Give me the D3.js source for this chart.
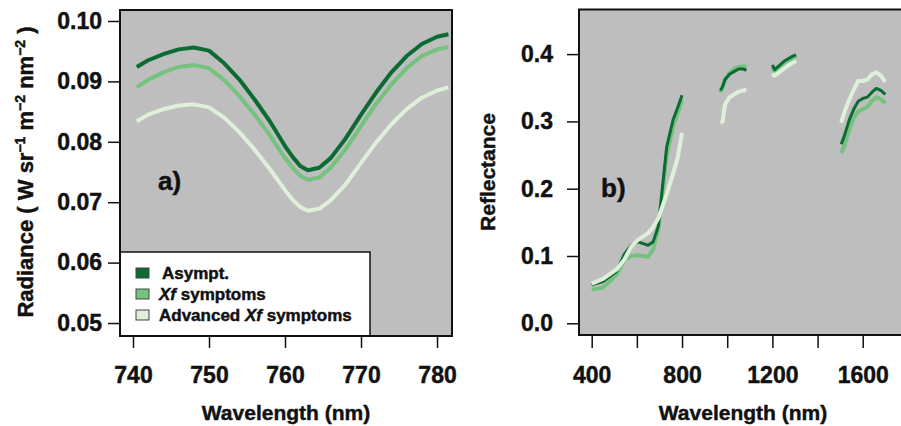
<!DOCTYPE html>
<html>
<head>
<meta charset="utf-8">
<script src="https://cdn.jsdelivr.net/npm/d3@7"></script>
<style>
  body { margin: 0; background: #fff; }
  text { font-family: "Liberation Sans", Arial, sans-serif; font-weight: bold; fill: #111; stroke: #111; stroke-width: 0.45px; }
</style>
</head>
<body>
<svg width="901" height="426"></svg>
<script>
// panel a) radiance around the O2-A band
const wlA = [740.5, 742, 744, 746, 748, 750, 752, 754, 756, 758, 760, 761, 762, 763, 764.5, 766, 768, 770, 772, 774, 776, 778, 780, 781.5];
const asymptA = [0.0924, 0.0935, 0.0945, 0.0953, 0.0956, 0.0951, 0.0930, 0.0903, 0.0870, 0.0834, 0.0793, 0.0775, 0.0760, 0.0753, 0.0757, 0.0773, 0.0806, 0.0845, 0.0882, 0.0915, 0.0942, 0.0962, 0.0974, 0.0978];
const xfA = [0.0890, 0.0903, 0.0915, 0.0924, 0.0927, 0.0922, 0.0902, 0.0876, 0.0845, 0.0811, 0.0773, 0.0757, 0.0744, 0.0737, 0.0741, 0.0757, 0.0788, 0.0826, 0.0863, 0.0895, 0.0922, 0.0942, 0.0953, 0.0957];
const advA = [0.0834, 0.0845, 0.0854, 0.0860, 0.0862, 0.0857, 0.0840, 0.0816, 0.0787, 0.0755, 0.0720, 0.0704, 0.0692, 0.0686, 0.0689, 0.0703, 0.0730, 0.0765, 0.0799, 0.0829, 0.0854, 0.0873, 0.0885, 0.0890];

// panel b) reflectance, null = water absorption gap
const wlB = [400, 450, 510, 545, 575, 605, 650, 672, 695, 732, 760, 780, 800, null,
             970, 980, 990, 1010, 1030, 1050, 1070, 1085, null,
             1200, 1210, 1230, 1250, 1270, 1290, 1305, null,
             1505, 1520, 1540, 1560, 1580, 1600, 1620, 1640, 1660, 1680, 1700];
const asymptB = [0.057, 0.062, 0.077, 0.103, 0.116, 0.121, 0.116, 0.121, 0.144, 0.262, 0.302, 0.320, 0.339, null,
                 0.346, 0.352, 0.362, 0.370, 0.374, 0.378, 0.378, 0.376, null,
                 0.384, 0.377, 0.383, 0.389, 0.393, 0.397, 0.399, null,
                 0.266, 0.280, 0.302, 0.318, 0.330, 0.334, 0.336, 0.343, 0.349, 0.346, 0.340];
const xfB = [0.050, 0.053, 0.072, 0.094, 0.100, 0.101, 0.099, 0.110, 0.140, 0.250, 0.292, 0.312, 0.332, null,
             0.343, 0.352, 0.362, 0.372, 0.378, 0.381, 0.382, 0.381, null,
             0.381, 0.375, 0.381, 0.387, 0.391, 0.395, 0.397, null,
             0.253, 0.265, 0.288, 0.305, 0.315, 0.318, 0.322, 0.330, 0.336, 0.333, 0.327];
const advB = [0.059, 0.066, 0.080, 0.095, 0.114, 0.124, 0.134, 0.143, 0.156, 0.192, 0.222, 0.245, 0.283, null,
              0.298, 0.300, 0.325, 0.336, 0.340, 0.344, 0.346, 0.347, null,
              0.371, 0.368, 0.373, 0.378, 0.383, 0.387, 0.390, null,
              0.298, 0.315, 0.332, 0.347, 0.360, 0.360, 0.362, 0.370, 0.373, 0.368, 0.359];

const groups = ["Asympt.", "Xf symptoms", "Advanced Xf symptoms"];
const colors = ["#0b6b32", "#74c27e", "#dff0da"];

const ticksAX = [740, 750, 760, 770, 780];
const ticksAY = [0.05, 0.06, 0.07, 0.08, 0.09, 0.10];
const ticksBX = [400, 600, 800, 1000, 1200, 1400, 1600, 1800];
const labelsBX = [400, 800, 1200, 1600];
const ticksBY = [0, 0.1, 0.2, 0.3, 0.4];

const svg = d3.select("svg");
svg.append("rect").attr("width", 901).attr("height", 426).attr("fill", "#fff");

const bg = "#bebebe";

// ---------- panel a ----------
const xA = d3.scaleLinear().domain([738.29, 781.97]).range([120, 452]);
const yA = d3.scaleLinear().domain([0.04785, 0.10182]).range([336, 10]);

svg.append("rect")
    .attr("x", 120).attr("y", 10).attr("width", 332).attr("height", 326)
    .attr("fill", bg);

const lineA = d3.line().x(d => xA(d[0])).y(d => yA(d[1]));
[asymptA, xfA, advA].forEach((vals, i) => {
  svg.append("path")
      .datum(wlA.map((w, j) => [w, vals[j]]))
      .attr("d", lineA)
      .attr("fill", "none")
      .attr("stroke", colors[i])
      .attr("stroke-width", 4)
      .attr("stroke-linejoin", "round");
});

// legend
const leg = svg.append("g");
leg.append("rect")
    .attr("x", 120).attr("y", 252).attr("width", 250).attr("height", 84)
    .attr("fill", "#fff").attr("stroke", "#111").attr("stroke-width", 1.5);
const rowY = [273, 294, 315];
groups.forEach((g, i) => {
  leg.append("rect")
      .attr("x", 136).attr("y", rowY[i] - 5).attr("width", 13).attr("height", 10)
      .attr("fill", colors[i]).attr("stroke", "#444").attr("stroke-width", 1);
  let t = leg.append("text")
      .attr("x", i == 0 ? 162 : 159).attr("y", rowY[i] + 6)
      .style("font-size", "17px");
  if (i == 0) t.text(g);
  else if (i == 1) {
    t.append("tspan").style("font-style", "italic").text("Xf");
    t.append("tspan").text(" symptoms");
  } else {
    t.append("tspan").text("Advanced ");
    t.append("tspan").style("font-style", "italic").text("Xf");
    t.append("tspan").text(" symptoms");
  }
});

svg.append("rect")
    .attr("x", 120).attr("y", 10).attr("width", 332).attr("height", 326)
    .attr("fill", "none").attr("stroke", "#111").attr("stroke-width", 2);

const axAX = svg.append("g")
    .attr("transform", "translate(0,336)")
    .call(d3.axisBottom(xA).tickValues(ticksAX).tickSize(12).tickPadding(19).tickFormat(d3.format("d")));
const axAY = svg.append("g")
    .attr("transform", "translate(120,0)")
    .call(d3.axisLeft(yA).tickValues(ticksAY).tickSize(12).tickPadding(6).tickFormat(d3.format(".2f")));

svg.append("text")
    .attr("x", 286).attr("y", 420)
    .attr("text-anchor", "middle")
    .style("font-size", "21px")
    .text("Wavelength (nm)");

const yt = svg.append("text")
    .attr("transform", "translate(33,172) rotate(-90)")
    .attr("text-anchor", "middle")
    .style("font-size", "22px");
yt.append("tspan").text("Radiance ( W sr");
yt.append("tspan").attr("dy", -8).style("font-size", "14px").text("\u22121");
yt.append("tspan").attr("dy", 8).text(" m");
yt.append("tspan").attr("dy", -8).style("font-size", "14px").text("\u22122");
yt.append("tspan").attr("dy", 8).text(" nm");
yt.append("tspan").attr("dy", -8).style("font-size", "14px").text("\u22122");
yt.append("tspan").attr("dy", 8).text(" )");

svg.append("text")
    .attr("x", 158).attr("y", 190)
    .style("font-size", "26px")
    .text("a)");

// ---------- panel b ----------
const xB = d3.scaleLinear().domain([343.8, 1796]).range([579, 907]);
const yB = d3.scaleLinear().domain([-0.0174, 0.4663]).range([335, 9.5]);

svg.append("rect")
    .attr("x", 579).attr("y", 9.5).attr("width", 328).attr("height", 325.5)
    .attr("fill", bg);

const lineB = d3.line()
    .defined(d => d[0] != null && d[1] != null)
    .x(d => xB(d[0])).y(d => yB(d[1]));
const widthsB = [3, 4, 4];
[[xfB, 1], [asymptB, 0], [advB, 2]].forEach(([vals, i]) => {
  svg.append("path")
      .datum(wlB.map((w, j) => [w, vals[j]]))
      .attr("d", lineB)
      .attr("fill", "none")
      .attr("stroke", colors[i])
      .attr("stroke-width", widthsB[i])
      .attr("stroke-linejoin", "round");
});

svg.append("rect")
    .attr("x", 579).attr("y", 9.5).attr("width", 328).attr("height", 325.5)
    .attr("fill", "none").attr("stroke", "#111").attr("stroke-width", 2);

const axBX = svg.append("g")
    .attr("transform", "translate(0,335)")
    .call(d3.axisBottom(xB).tickValues(ticksBX).tickSize(13).tickPadding(19)
      .tickFormat(d => labelsBX.includes(d) ? d : ""));
const axBY = svg.append("g")
    .attr("transform", "translate(579,0)")
    .call(d3.axisLeft(yB).tickValues(ticksBY).tickSize(12).tickPadding(14).tickFormat(d3.format(".1f")));

[axAX, axAY, axBX, axBY].forEach(a => {
  a.select(".domain").remove();
  a.selectAll(".tick line").attr("stroke", "#111").attr("stroke-width", 1.5);
  a.selectAll(".tick text")
      .attr("fill", "#111")
      .style("font-family", "'Liberation Sans', Arial, sans-serif")
      .style("font-weight", "bold")
      .style("font-size", "23px");
});

svg.append("text")
    .attr("x", 743).attr("y", 420)
    .attr("text-anchor", "middle")
    .style("font-size", "21px")
    .text("Wavelength (nm)");

svg.append("text")
    .attr("transform", "translate(495,172) rotate(-90)")
    .attr("text-anchor", "middle")
    .style("font-size", "21px")
    .text("Reflectance");

svg.append("text")
    .attr("x", 601).attr("y", 197)
    .style("font-size", "26px")
    .text("b)");
</script>
</body>
</html>
